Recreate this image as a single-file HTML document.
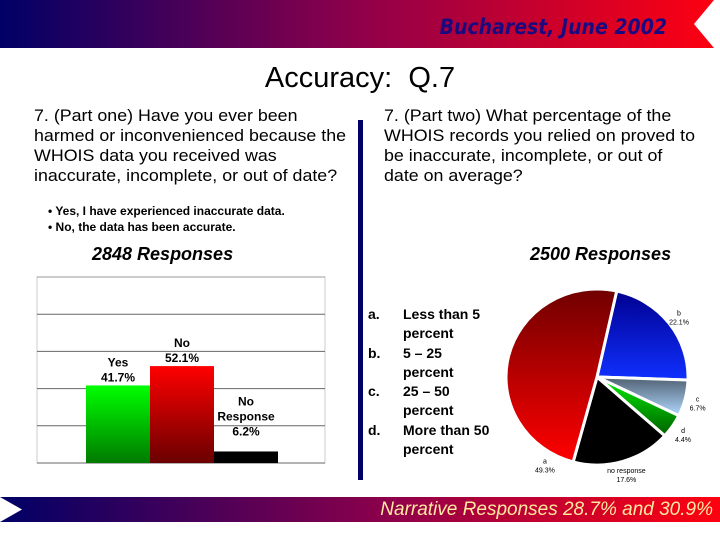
<!DOCTYPE html>
<html><head><meta charset="utf-8"><style>
body{margin:0;width:720px;height:540px;background:#fff;position:relative;overflow:hidden;font-family:"Liberation Sans",sans-serif}
.abs{position:absolute}
</style></head><body>
<div class="abs" style="left:0;top:0;width:720px;height:48px;background:linear-gradient(90deg,#000066,#90004a 50%,#ff0010)"></div>
<svg class="abs" style="left:690px;top:0" width="30" height="48"><polygon points="30,0 30,48 24,48 4,24 24,0" fill="#fff"/></svg>
<div class="abs" style="left:380px;top:15px;width:287px;text-align:right;font:italic bold 21px 'DejaVu Sans',sans-serif;color:#1a0a80;transform:scaleX(0.9);transform-origin:right">Bucharest, June 2002</div>
<div class="abs" style="left:0;width:720px;top:62px;text-align:center;font-size:29px;color:#000">Accuracy:&nbsp; Q.7</div>
<div class="abs" style="left:34px;top:106px;width:330px;font-size:16.5px;line-height:20px;white-space:nowrap;transform:scaleX(1.08);transform-origin:left">7. (Part one) Have you ever been<br>harmed or inconvenienced because the<br>WHOIS data you received was<br>inaccurate, incomplete, or out of date?</div>
<div class="abs" style="left:384px;top:106px;width:330px;font-size:16.5px;line-height:20px;white-space:nowrap;transform:scaleX(1.08);transform-origin:left">7. (Part two) What percentage of the<br>WHOIS records you relied on proved to<br>be inaccurate, incomplete, or out of<br>date on average?</div>
<div class="abs" style="left:358px;top:120px;width:5px;height:360px;background:#000066"></div>
<div class="abs" style="left:48px;top:203px;font-size:12px;font-weight:bold;line-height:16px">• Yes, I have experienced inaccurate data.<br>• No, the data has been accurate.</div>
<div class="abs" style="left:92px;top:244px;font:italic bold 18px 'Liberation Sans',sans-serif">2848 Responses</div>
<div class="abs" style="left:530px;top:244px;font:italic bold 18px 'Liberation Sans',sans-serif">2500 Responses</div>
<div class="abs" style="left:368px;top:305px;font-size:14px;font-weight:bold;line-height:19.3px">
<div style="display:flex"><span style="width:35px">a.</span><span>Less than 5<br>percent</span></div>
<div style="display:flex"><span style="width:35px">b.</span><span>5 – 25<br>percent</span></div>
<div style="display:flex"><span style="width:35px">c.</span><span>25 – 50<br>percent</span></div>
<div style="display:flex"><span style="width:35px">d.</span><span>More than 50<br>percent</span></div>
</div>
<svg id="bar" class="abs" style="left:0;top:0" width="360" height="480">
<defs>
<linearGradient id="gG" x1="0" y1="0" x2="0" y2="1"><stop offset="0" stop-color="#00ff00"/><stop offset="1" stop-color="#007a00"/></linearGradient>
<linearGradient id="gR" x1="0" y1="0" x2="0" y2="1"><stop offset="0" stop-color="#ff0000"/><stop offset="1" stop-color="#6a0000"/></linearGradient>
</defs>
</svg>
<svg id="pie" class="abs" style="left:490px;top:270px" width="230" height="225">
<defs>
<linearGradient id="pa" x1="0" y1="0" x2="0" y2="1"><stop offset="0" stop-color="#700000"/><stop offset="1" stop-color="#ff0000"/></linearGradient>
<linearGradient id="pb" x1="0" y1="0" x2="0" y2="1"><stop offset="0" stop-color="#000090"/><stop offset="1" stop-color="#1030ff"/></linearGradient>
<linearGradient id="pc" x1="0" y1="0" x2="0" y2="1"><stop offset="0" stop-color="#506070"/><stop offset="1" stop-color="#b0d8ff"/></linearGradient>
<linearGradient id="pd" x1="0" y1="0" x2="0" y2="1"><stop offset="0" stop-color="#00ee00"/><stop offset="1" stop-color="#006000"/></linearGradient>
</defs>
</svg>
<div class="abs" style="left:0;top:497px;width:720px;height:25px;background:linear-gradient(90deg,#000066,#90004a 55%,#ff0010)"></div>
<svg class="abs" style="left:0;top:497px" width="24" height="25"><polygon points="0,0 22,12.5 0,25" fill="#fff"/></svg>
<div class="abs" style="left:250px;width:463px;top:497px;text-align:right;font:italic 19px 'Liberation Sans',sans-serif;color:#ffe9a0;line-height:25px">Narrative Responses 28.7% and 30.9%</div>
<script>
const barCats=["Yes","No","No Response"];
const barVals=[41.7,52.1,6.2];
const barFills=["url(#gG)","url(#gR)","#000"];
const yTicks=[0,20,40,60,80,100];
const pieCats=["b","c","d","no response","a"];
const pieVals=[22.1,6.7,4.4,17.6,49.3];
const pieFills=["url(#pb)","url(#pc)","url(#pd)","#000","url(#pa)"];
const NS="http://www.w3.org/2000/svg";
function mk(p,t,a){const e=document.createElementNS(NS,t);for(const k in a)e.setAttribute(k,a[k]);p.appendChild(e);return e;}
const bar=document.getElementById('bar');
const x0=37,x1=325,yb=463,yt=277;
const y=v=>yb-(v/100)*(yb-yt);
mk(bar,'rect',{x:x0,y:yt,width:x1-x0,height:yb-yt,fill:'#fff',stroke:'#ccc'});
yTicks.forEach(t=>{const l=mk(bar,'line',{x1:x0,x2:x1,y1:y(t),y2:y(t),stroke:t===100?'#999':'#666','stroke-width':1});

});
const bw=64,bx0=86;
barVals.forEach((v,i)=>{const r=mk(bar,'rect',{x:bx0+i*bw,y:y(v),width:bw,height:yb-y(v),fill:barFills[i]});


const words=barCats[i].split(' ');const lines=words.concat([v.toFixed(1)+'%']);
const top=y(v)-4-15*(lines.length-1);
lines.forEach((s,j)=>{const t=mk(bar,'text',{x:bx0+i*bw+bw/2,y:top+15*j-(i===2?12:0),'text-anchor':'middle','font-size':12,'font-weight':'bold','font-family':'Liberation Sans,sans-serif'});t.textContent=s;

});});
const pie=document.getElementById('pie');
const cx=107,cy=107,rx=91,ry=88;let ang=12.5;const tot=pieVals.reduce((a,b)=>a+b,0);
const pos=(a,f)=>[cx+rx*f*Math.sin(a*Math.PI/180),cy-ry*f*Math.cos(a*Math.PI/180)];
pieVals.forEach((v,i)=>{const a0=ang,a1=ang+v/tot*360;ang=a1;
const p0=pos(a0,1),p1=pos(a1,1);const large=(a1-a0)>180?1:0;
const s=mk(pie,'path',{d:`M${cx},${cy}L${p0[0]},${p0[1]}A${rx},${ry} 0 ${large} 1 ${p1[0]},${p1[1]}Z`,fill:pieFills[i],stroke:'#fff','stroke-width':3});


const isA=pieCats[i]==='a';
const m=isA?212:(a0+a1)/2;const lp=pos(m,isA?1.08:1.14);
[pieCats[i],v.toFixed(1)+'%'].forEach((txt,j)=>{const t=mk(pie,'text',{x:lp[0],y:lp[1]+(isA?6:0)+j*9,'text-anchor':'middle','font-size':7,'font-family':'Liberation Sans,sans-serif'});t.textContent=txt;

});});
</script>
</body></html>
